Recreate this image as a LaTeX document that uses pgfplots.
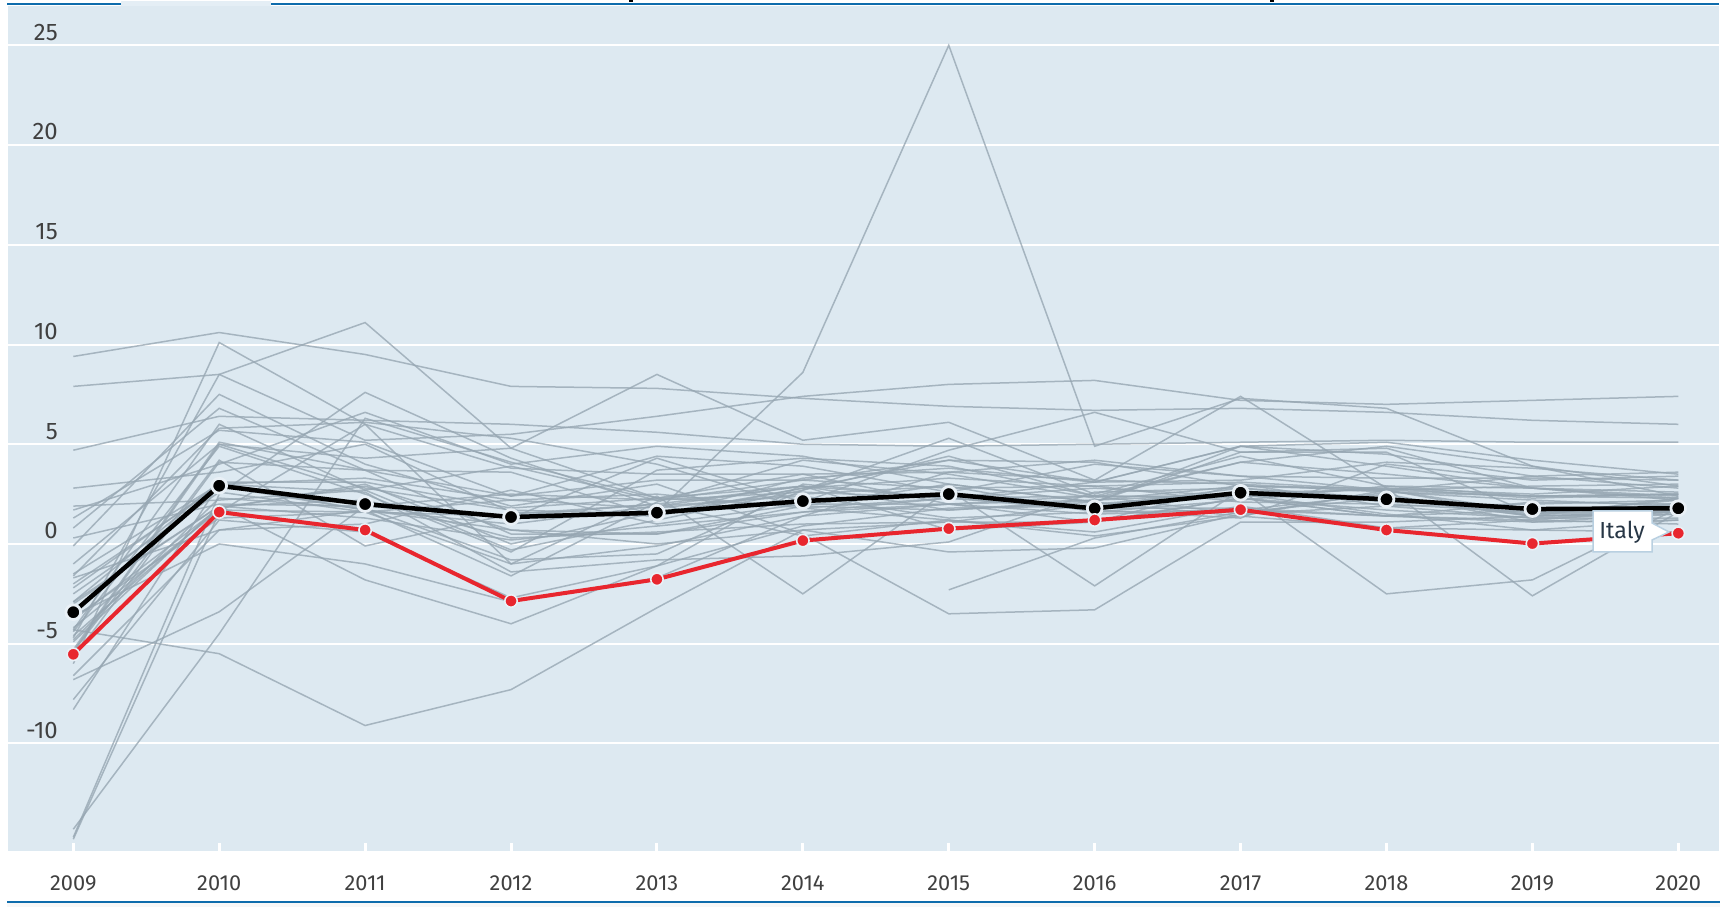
\documentclass[border=0pt]{standalone}
\usepackage{fontspec}
\setmainfont{Fira Sans}
\usepackage{pgfplots}
\pgfplotsset{compat=1.18}
\usepackage{pgfplotstable}
\definecolor{bgc}{RGB}{221,233,241}
\definecolor{bgl}{RGB}{228,238,245}
\definecolor{oecdblue}{RGB}{14,108,172}
\definecolor{greyline}{RGB}{150,166,178}
\definecolor{itred}{RGB}{232,38,46}
\definecolor{markring}{RGB}{233,240,246}
\definecolor{labc}{RGB}{64,64,64}
\definecolor{callb}{RGB}{185,208,225}
\definecolor{callt}{RGB}{40,55,70}

\pgfplotstableread{
c 2009 2010 2011 2012 2013 2014 2015 2016 2017 2018 2019 2020
AUS 1.9 2.2 2.7 3.9 2.2 2.6 2.3 2.8 2.4 2.8 2.3 2.5
AUT -3.8 1.8 2.9 0.7 0.0 0.7 1.1 2.0 2.6 2.7 1.4 1.6
BEL -2.0 2.9 1.7 0.7 0.5 1.6 2.0 1.5 1.7 1.4 1.1 1.2
CAN -2.9 3.1 3.1 1.8 2.3 2.9 0.7 1.1 3.0 1.9 1.3 1.6
CHL -1.6 5.8 6.1 5.3 4.0 1.8 2.3 1.7 1.3 4.0 3.2 3.4
CZE -4.8 2.3 1.8 -0.8 -0.5 2.7 5.3 2.5 4.4 2.9 2.4 2.3
DNK -4.9 1.9 1.3 0.2 0.9 1.6 2.3 2.4 2.3 1.4 1.7 1.6
EST -14.7 2.5 7.6 4.3 1.9 2.9 1.7 2.1 4.9 3.9 2.8 2.2
FIN -8.3 3.0 2.6 -1.4 -0.8 -0.6 0.1 2.6 2.8 2.3 1.4 1.5
FRA -2.9 1.9 2.2 0.3 0.6 1.0 1.1 1.1 2.3 1.7 1.3 1.3
DEU -5.7 4.1 3.7 0.5 0.5 1.9 1.7 2.2 2.5 1.5 0.7 1.2
GRC -4.3 -5.5 -9.1 -7.3 -3.2 0.7 -0.4 -0.2 1.5 1.9 2.0 2.2
HUN -6.6 0.7 1.7 -1.6 2.1 4.2 3.5 2.3 4.1 4.9 3.9 2.4
ISL -6.8 -3.4 1.9 1.3 4.3 2.1 4.7 6.6 4.6 4.6 1.5 2.2
IRL -4.6 1.8 3.0 0.0 1.6 8.6 25.0 4.9 7.3 6.8 3.9 2.9
ISR 1.3 5.7 5.1 2.4 4.4 3.9 2.6 4.0 3.4 3.3 3.3 3.2
JPN -5.4 4.2 -0.1 1.5 2.0 0.4 1.2 0.6 1.9 0.8 0.7 0.6
KOR 0.8 6.8 3.7 2.4 3.2 3.2 2.8 2.9 3.1 2.7 2.4 2.5
LVA -14.3 -4.5 6.3 4.1 2.3 1.9 3.0 2.1 4.6 4.8 2.8 2.6
LTU -14.8 1.6 6.0 3.8 3.5 3.5 2.0 2.4 4.1 3.5 2.8 2.4
LUX -4.4 4.9 2.5 -0.4 3.7 4.3 3.9 2.4 1.5 2.6 2.4 2.5
MEX -5.3 5.1 3.7 3.6 1.4 2.8 3.3 2.9 2.1 2.0 1.6 2.0
NLD -3.7 1.3 1.6 -1.0 -0.1 1.4 2.0 2.2 2.9 2.7 1.6 1.6
NZL 0.3 2.0 1.9 2.5 2.2 3.2 4.2 4.1 2.9 2.8 2.5 2.9
NOR -1.7 0.7 1.0 2.7 1.0 2.0 2.0 1.1 2.3 1.4 2.1 2.0
POL 2.8 3.6 5.0 1.6 1.4 3.3 3.8 3.1 4.9 5.1 4.2 3.5
PRT -3.0 1.9 -1.8 -4.0 -1.1 0.9 1.8 1.9 2.8 2.1 1.8 1.6
SVK -5.4 5.0 2.8 1.7 1.5 2.8 4.2 3.1 3.2 4.1 3.8 3.2
SVN -7.8 1.2 0.6 -2.7 -1.1 3.0 2.3 3.1 4.9 4.5 3.4 2.8
ESP -3.6 0.0 -1.0 -2.9 -1.7 1.4 3.6 3.2 3.0 2.6 2.2 1.9
SWE -4.3 6.0 2.7 -0.3 1.2 2.7 4.4 2.4 2.4 2.3 1.5 1.6
CHE -2.2 3.0 1.7 1.0 1.9 2.4 1.3 1.6 1.7 2.5 1.1 1.5
TUR -4.7 8.5 11.1 4.8 8.5 5.2 6.1 3.2 7.4 2.8 -2.6 1.6
GBR -4.2 1.7 1.6 1.4 2.0 2.9 2.3 1.8 1.8 1.4 1.2 1.0
USA -2.5 2.6 1.6 2.2 1.8 2.5 2.9 1.6 2.2 2.9 2.8 2.3
ARG -6.0 10.1 6.0 -1.0 2.4 -2.5 2.7 -2.1 2.7 -2.5 -1.8 1.8
BRA -0.1 7.5 4.0 1.9 3.0 0.5 -3.5 -3.3 1.1 1.1 1.4 2.3
CHN 9.4 10.6 9.5 7.9 7.8 7.3 6.9 6.7 6.8 6.6 6.2 6.0
IND 7.9 8.5 5.2 5.5 6.4 7.4 8.0 8.2 7.2 7.0 7.2 7.4
IDN 4.7 6.4 6.2 6.0 5.6 5.0 4.9 5.0 5.1 5.2 5.1 5.1
RUS nan nan nan nan nan nan -2.3 0.3 1.6 2.3 1.4 1.6
ZAF -1.5 3.0 3.3 2.2 2.5 1.8 1.2 0.4 1.4 0.8 1.2 1.7
COL 1.7 4.0 6.6 4.0 4.9 4.4 3.0 2.1 1.4 2.7 3.4 3.6
CRI -1.0 5.0 4.3 4.8 2.3 3.5 3.6 4.2 3.4 2.7 2.9 3.0
}\raw
\pgfplotstabletranspose[colnames from=c, input colnames to=year]\gdp{\raw}

\begin{document}
\begin{tikzpicture}[x=1mm,y=1mm]
\path[use as bounding box] (0,0) rectangle (172.9,90.7);
\begin{axis}[at={(0.75mm,5.6mm)}, anchor=south west,
  width=171.15mm, height=84.5mm, scale only axis,
  xmin=2008.549, xmax=2020.279, ymin=-15.39, ymax=26.97,
  axis background/.style={fill=bgc},
  axis line style={draw=none},
  ymajorgrids, major grid style={white, line width=0.2mm},
  ytick={-10,-5,0,5,10,15,20,25},
  yticklabels={-10,-5,0,5,10,15,20,25},
  xtick={2009,2010,2011,2012,2013,2014,2015,2016,2017,2018,2019,2020},
  xticklabels={2009,2010,2011,2012,2013,2014,2015,2016,2017,2018,2019,2020},
  tick align=inside, tick pos=left,
  major tick length=0.8mm,
  xtick style={white, line width=0.3mm},
  ytick style={draw=none},
  ticklabel style={text=labc, inner sep=0pt},
  yticklabel style={font=\fontsize{6.8}{8}\selectfont, anchor=south east, xshift=5.1mm, yshift=0.42mm},
  xticklabel style={font=\fontsize{6.2}{7}\selectfont, anchor=north, yshift=-2.45mm},
]
\pgfplotsinvokeforeach{AUS,AUT,BEL,CAN,CHL,CZE,DNK,EST,FIN,FRA,DEU,GRC,HUN,ISL,IRL,ISR,JPN,KOR,LVA,LTU,LUX,MEX,NLD,NZL,NOR,POL,PRT,SVK,SVN,ESP,SWE,CHE,TUR,GBR,USA,ARG,BRA,CHN,IND,IDN,RUS,ZAF,COL,CRI}{
  \addplot[greyline, line width=0.15mm, draw opacity=0.78, no markers] table[x=year, y=#1]{\gdp};
}
\addplot[black, line width=0.45mm, mark=*, mark size=0.74mm,
  mark options={fill=black, draw=markring, line width=0.28mm}] coordinates {
  (2009,-3.42) (2010,2.92) (2011,2.0) (2012,1.35) (2013,1.57) (2014,2.15)
  (2015,2.5) (2016,1.78) (2017,2.57) (2018,2.24) (2019,1.75) (2020,1.79)};
\addplot[itred, line width=0.4mm, mark=*, mark size=0.62mm,
  mark options={fill=itred, draw=markring, line width=0.16mm}] coordinates {
  (2009,-5.53) (2010,1.6) (2011,0.7) (2012,-2.86) (2013,-1.77) (2014,0.17)
  (2015,0.77) (2016,1.2) (2017,1.72) (2018,0.7) (2019,0.02) (2020,0.54)};
\end{axis}
% frame decorations
\fill[bgl] (12.1,90.1) rectangle (27.1,90.55);
\fill[oecdblue] (0.7,90.18) rectangle (12.1,90.36);
\fill[oecdblue] (27.1,90.18) rectangle (171.9,90.36);
\fill[black] (62.9,90.45) rectangle (63.25,90.7);
\fill[black] (127.0,90.45) rectangle (127.35,90.7);
\fill[black!3] (0.7,0) rectangle (172.0,0.39);
\fill[oecdblue] (0.7,0.39) rectangle (172.0,0.56);
% Italy callout
\filldraw[fill=white, draw=callb, line width=0.15mm]
  (159.3,35.5) -- (165.2,35.5) -- (165.2,36.7) -- (166.9,37.5) -- (165.2,38.4)
  -- (165.2,39.6) -- (159.3,39.6) -- cycle;
\node[text=callt, font=\fontsize{6.6}{7.5}\selectfont, inner sep=0pt] at (162.2,37.5) {Italy};
\end{tikzpicture}
\end{document}
